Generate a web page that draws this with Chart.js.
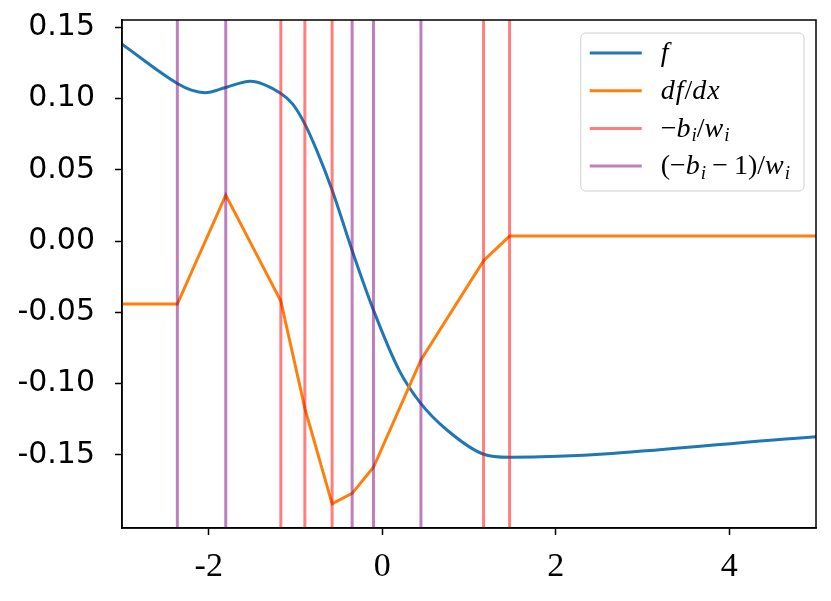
<!DOCTYPE html>
<html>
<head>
<meta charset="utf-8">
<script src="https://cdn.jsdelivr.net/npm/chart.js@4.4.0/dist/chart.umd.min.js"></script>
<style>
  html, body { margin: 0; padding: 0; background: #fff; }
</style>
</head>
<body>
<canvas id="grafica" width="831" height="601"></canvas>
<script>
// curva f
const fX = [-3, -2.362, -2.2, -2.043, -1.804, -1.523, -1.169, -1.034, -0.893, -0.754, -0.578, -0.347, -0.101, 0.2, 0.446, 0.746, 1.161, 1.468, 5];
const fY = [0.1380, 0.1105, 0.1058, 0.1040, 0.1077, 0.1121, 0.1035, 0.0962, 0.0822, 0.0634, 0.0358, -0.0066, -0.0484, -0.0912, -0.1140, -0.1325, -0.1493, -0.1516, -0.1372];

// derivada df/dx (lineal a trozos)
const dfX = [-3, -2.362, -1.804, -1.169, -0.892, -0.578, -0.347, -0.101, 0.446, 1.168, 1.468, 5];
const dfY = [-0.0442, -0.0442, 0.0322, -0.0420, -0.1173, -0.1843, -0.1769, -0.1586, -0.0834, -0.0138, 0.0035, 0.0035];

// lineas verticales
const redX = [-1.169, -0.892, -0.578, 1.168, 1.468];      // -b_i/w_i
const purpleX = [-2.362, -1.804, -0.347, -0.101, 0.446];  // (-b_i-1)/w_i

const xTicks = [-2, 0, 2, 4];
const yTicks = [-0.15, -0.10, -0.05, 0.00, 0.05, 0.10, 0.15];
const xMin = -3, xMax = 5;
const yMin = -0.2012, yMax = 0.155;

const labels = ['f', 'df/dx', '\u2212b_i/w_i', '(\u2212b_i \u2212 1)/w_i'];
const colors = ['#1f77b4', '#ff7f0e', 'rgba(255,0,0,0.5)', 'rgba(128,0,128,0.5)'];

function vlines(xs) {
    const pts = [];
    xs.forEach(x => { pts.push({x: x, y: yMin}, {x: x, y: yMax}, {x: x, y: null}); });
    return pts;
}

// marco completo alrededor del area del grafico
const framePlugin = {
    id: 'frame',
    afterDatasetsDraw(chart) {
        const a = chart.chartArea, ctx = chart.ctx;
        ctx.save();
        ctx.strokeStyle = '#000';
        ctx.lineWidth = 1.5;
        ctx.strokeRect(a.left, a.top, a.right - a.left, a.bottom - a.top);
        ctx.restore();
    }
};

// dibuja texto tipo matematico con subindices
function drawMath(ctx, str, x, y, measureOnly) {
    const big = 28, small = 19;
    let cx = x;
    for (let i = 0; i < str.length; i++) {
        let ch = str[i], sub = false;
        if (ch === '_') { sub = true; i++; ch = str[i]; }
        const italic = /[a-zA-Z]/.test(ch);
        ctx.font = (italic ? 'italic ' : '') + (sub ? small : big) + 'px "Liberation Serif", "DejaVu Serif", serif';
        if (ch === ' ') { cx += 6; continue; }
        if (!measureOnly) ctx.fillText(ch, cx, sub ? y + 7 : y);
        cx += ctx.measureText(ch).width + (italic && !sub ? 1 : 0);
    }
    return cx - x;
}

const legendPlugin = {
    id: 'mathLegend',
    afterDraw(chart) {
        const a = chart.chartArea, ctx = chart.ctx;
        ctx.save();
        ctx.textBaseline = 'middle';
        let maxW = 0;
        labels.forEach(l => { maxW = Math.max(maxW, drawMath(ctx, l, 0, 0, true)); });
        const pad = 9, lineLen = 52, gap = 19, rowH = 37.7;
        const w = pad + lineLen + gap + maxW + 14;
        const h = 158;
        const left = a.right - 12 - w, top = a.top + 13;
        ctx.beginPath();
        ctx.roundRect(left, top, w, h, 5);
        ctx.fillStyle = 'rgba(255,255,255,0.8)';
        ctx.fill();
        ctx.strokeStyle = '#d0d0d0';
        ctx.lineWidth = 1;
        ctx.stroke();
        labels.forEach((l, i) => {
            const y = top + 20 + i * rowH;
            ctx.beginPath();
            ctx.moveTo(left + pad, y);
            ctx.lineTo(left + pad + lineLen, y);
            ctx.strokeStyle = colors[i];
            ctx.lineWidth = 3;
            ctx.stroke();
            ctx.fillStyle = '#000';
            drawMath(ctx, l, left + pad + lineLen + gap, y + 1, false);
        });
        ctx.restore();
    }
};

const grafica = document.getElementById('grafica').getContext('2d');
new Chart(grafica, {
    type: 'line',
    data: {
        datasets: [
            {
                label: labels[0],
                data: fX.map((x, i) => ({x: x, y: fY[i]})),
                borderColor: colors[0],
                borderWidth: 3,
                pointRadius: 0,
                cubicInterpolationMode: 'monotone',
                order: 4
            },
            {
                label: labels[1],
                data: dfX.map((x, i) => ({x: x, y: dfY[i]})),
                borderColor: colors[1],
                borderWidth: 3,
                pointRadius: 0,
                tension: 0,
                order: 3
            },
            {
                label: labels[2],
                data: vlines(redX),
                borderColor: colors[2],
                borderWidth: 3,
                pointRadius: 0,
                spanGaps: false,
                order: 2
            },
            {
                label: labels[3],
                data: vlines(purpleX),
                borderColor: colors[3],
                borderWidth: 3,
                pointRadius: 0,
                spanGaps: false,
                order: 1
            }
        ]
    },
    options: {
        responsive: false,
        animation: false,
        devicePixelRatio: 1,
        layout: { padding: { top: 20, right: 15, left: 0, bottom: 0 } },
        plugins: {
            legend: { display: false },
            tooltip: { enabled: false }
        },
        scales: {
            x: {
                type: 'linear',
                min: xMin,
                max: xMax,
                afterFit: (s) => { s.height = 73; s.paddingLeft = 0; s.paddingRight = 0; },
                afterBuildTicks: (s) => { s.ticks = xTicks.map(v => ({value: v})); },
                ticks: {
                    color: '#000',
                    padding: 12,
                    maxRotation: 0,
                    font: { family: '"Liberation Serif", serif', size: 34 },
                    callback: (v) => String(v)
                },
                grid: { drawOnChartArea: false, drawTicks: true, tickLength: 7, tickColor: '#000', tickWidth: 1.5 },
                border: { display: true, color: '#000', width: 1.5 }
            },
            y: {
                min: yMin,
                max: yMax,
                afterFit: (s) => { s.width = 122; s.paddingTop = 0; s.paddingBottom = 0; },
                afterBuildTicks: (s) => { s.ticks = yTicks.map(v => ({value: v})); },
                ticks: {
                    color: '#000',
                    padding: 20,
                    font: { family: '"DejaVu Sans", sans-serif', size: 30 },
                    callback: (v) => v.toFixed(2)
                },
                grid: { drawOnChartArea: false, drawTicks: true, tickLength: 7, tickColor: '#000', tickWidth: 1.5 },
                border: { display: true, color: '#000', width: 1.5 }
            }
        }
    },
    plugins: [framePlugin, legendPlugin]
});
</script>
</body>
</html>
